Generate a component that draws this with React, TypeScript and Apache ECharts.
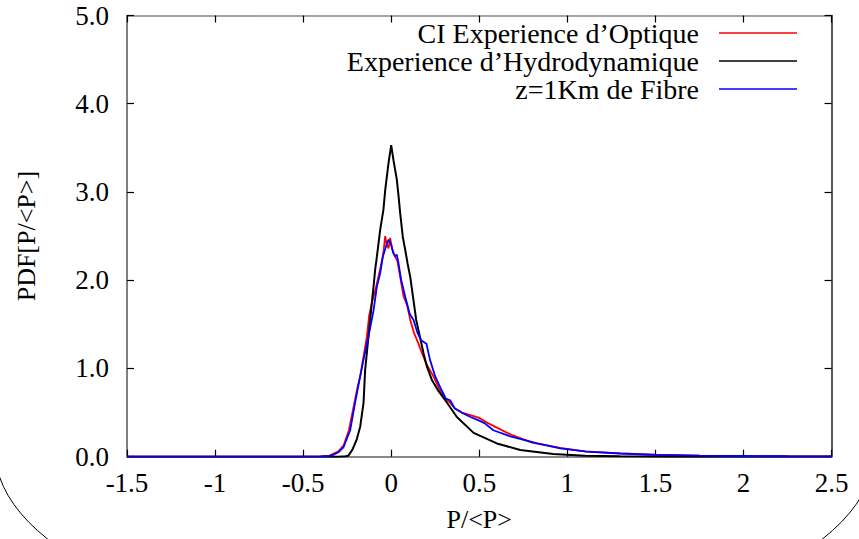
import React, { useEffect, useRef } from "react";
import * as echarts from "echarts";

// Axis ticks
const xTicks = [-1.5, -1, -0.5, 0, 0.5, 1, 1.5, 2, 2.5];
const yTicks = [0, 1, 2, 3, 4, 5];

const seriesNames = ["CI Experience d’Optique", "Experience d’Hydrodynamique", "z=1Km de Fibre"];
const seriesColors = ["#ff0000", "#000000", "#0000ff"];

// CI Experience d'Optique (red)
const redX = [-1.5, -0.5, -0.4, -0.35, -0.3, -0.27, -0.24, -0.21, -0.19, -0.176, -0.16, -0.138, -0.125, -0.11, -0.085, -0.06, -0.045, -0.034, -0.025, -0.015, -0.006, 0.005, 0.02, 0.035, 0.05, 0.07, 0.09, 0.108, 0.13, 0.153, 0.17, 0.2, 0.24, 0.27, 0.3, 0.33, 0.36, 0.4, 0.45, 0.5, 0.55, 0.6, 0.68, 0.8, 0.96, 1.1, 1.3, 1.5, 1.75, 2.0, 2.25, 2.5];
const redY = [0, 0, 0.003, 0.012, 0.06, 0.13, 0.3, 0.6, 0.8, 0.91, 1.1, 1.36, 1.6, 1.74, 1.93, 2.15, 2.3, 2.5, 2.4, 2.36, 2.48, 2.36, 2.28, 2.22, 2.05, 1.82, 1.72, 1.55, 1.4, 1.29, 1.2, 1.05, 0.91, 0.78, 0.67, 0.62, 0.55, 0.5, 0.47, 0.44, 0.38, 0.33, 0.25, 0.16, 0.1, 0.06, 0.038, 0.022, 0.013, 0.008, 0.005, 0.003];

// Experience d'Hydrodynamique (black)
const blackX = [-1.5, -0.3, -0.26, -0.244, -0.22, -0.195, -0.176, -0.157, -0.148, -0.129, -0.11, -0.1, -0.091, -0.081, -0.0625, -0.044, -0.034, -0.015, 0.0, 0.013, 0.032, 0.042, 0.051, 0.066, 0.08, 0.093, 0.108, 0.142, 0.184, 0.203, 0.231, 0.27, 0.307, 0.373, 0.468, 0.6, 0.733, 0.92, 1.1, 1.3, 1.6, 2.5];
const blackY = [0, 0, 0.005, 0.01, 0.08, 0.2, 0.34, 0.61, 0.98, 1.36, 1.74, 1.93, 2.12, 2.27, 2.57, 2.8, 3.02, 3.33, 3.53, 3.36, 3.14, 2.95, 2.76, 2.49, 2.34, 2.19, 2.04, 1.55, 1.17, 1.02, 0.87, 0.74, 0.64, 0.45, 0.27, 0.15, 0.076, 0.03, 0.012, 0.004, 0.0, 0.0];

// z=1Km de Fibre (blue)
const blueX = [-1.5, -0.5, -0.4, -0.35, -0.33, -0.3, -0.27, -0.233, -0.205, -0.18, -0.157, -0.129, -0.1, -0.081, -0.0625, -0.047, -0.03, -0.015, 0.0, 0.011, 0.022, 0.032, 0.04, 0.057, 0.08, 0.105, 0.127, 0.15, 0.17, 0.2, 0.22, 0.25, 0.28, 0.31, 0.335, 0.36, 0.41, 0.45, 0.487, 0.53, 0.58, 0.676, 0.83, 0.96, 1.11, 1.3, 1.5, 1.75, 2.0, 2.25, 2.5];
const blueY = [0, 0, 0.003, 0.01, 0.02, 0.05, 0.11, 0.3, 0.61, 0.87, 1.1, 1.36, 1.66, 1.93, 2.08, 2.27, 2.38, 2.46, 2.4, 2.31, 2.27, 2.29, 2.21, 2.0, 1.81, 1.62, 1.55, 1.4, 1.32, 1.28, 1.1, 0.91, 0.78, 0.66, 0.64, 0.55, 0.49, 0.45, 0.42, 0.38, 0.3, 0.23, 0.15, 0.095, 0.057, 0.036, 0.02, 0.012, 0.008, 0.005, 0.003];

const seriesXs = [redX, blackX, blueX];
const seriesYs = [redY, blackY, blueY];

const ArcShape = echarts.graphic.extendPath("M -5 450 A 440 188 0 0 0 875 450", {});
echarts.graphic.registerShape("bottomArc", ArcShape as any);

const FONT = "'Liberation Serif', 'Times New Roman', serif";

export default function App() {
  const ref = useRef<HTMLDivElement>(null);
  useEffect(() => {
    if (!ref.current) return;
    const chart = echarts.init(ref.current, null, { renderer: "svg" });
    const axisCommon = {
      type: "value" as const,
      splitLine: { show: false },
      axisTick: { show: true, inside: true, length: 7, lineStyle: { color: "#000", width: 1.2 } },
    };
    chart.setOption({
      animation: false,
      backgroundColor: "#fff",
      textStyle: { fontFamily: FONT },
      grid: { left: 127, right: 27.5, top: 15.5, bottom: 82.3, containLabel: false },
      legend: {
        orient: "vertical",
        right: 57,
        top: 14,
        align: "right",
        icon: "rect",
        itemWidth: 78,
        itemHeight: 1.6,
        itemGap: 0,
        selectedMode: false,
        data: seriesNames,
        textStyle: { fontFamily: FONT, fontSize: 28, color: "#000", padding: [0, 15, 0, 0], lineHeight: 26.6 },
      },
      xAxis: [
        {
          ...axisCommon,
          min: -1.5,
          max: 2.5,
          interval: 0.5,
          position: "bottom",
          axisLine: { show: true, onZero: false, lineStyle: { color: "#888", width: 2 } },
          axisLabel: { color: "#000", fontSize: 27, fontFamily: FONT, margin: 13 },
          name: "P/<P>",
          nameLocation: "middle",
          nameGap: 50,
          nameTextStyle: { color: "#000", fontSize: 26, fontFamily: FONT },
        },
        {
          ...axisCommon,
          min: -1.5,
          max: 2.5,
          interval: 0.5,
          position: "top",
          axisLine: { show: true, onZero: false, lineStyle: { color: "#888", width: 1.5 } },
          axisLabel: { show: false },
        },
      ],
      yAxis: [
        {
          ...axisCommon,
          min: 0,
          max: 5,
          interval: 1,
          position: "left",
          axisLine: { show: true, onZero: false, lineStyle: { color: "#555", width: 1.5 } },
          axisLabel: { color: "#000", fontSize: 27, fontFamily: FONT, margin: 18, formatter: (v: number) => v.toFixed(1) },
          name: "PDF[P/<P>]",
          nameLocation: "middle",
          nameGap: 88,
          nameTextStyle: { color: "#000", fontSize: 26, fontFamily: FONT },
        },
        {
          ...axisCommon,
          min: 0,
          max: 5,
          interval: 1,
          position: "right",
          axisLine: { show: true, onZero: false, lineStyle: { color: "#222", width: 1.5 } },
          axisLabel: { show: false },
        },
      ],
      series: seriesNames.map((name, i) => ({
        name,
        type: "line",
        xAxisIndex: 0,
        yAxisIndex: 0,
        symbol: "none",
        smooth: false,
        color: seriesColors[i],
        lineStyle: { color: seriesColors[i], width: i === 1 ? 2 : 1.8 },
        data: seriesXs[i].map((x, j) => [x, seriesYs[i][j]]),
      })),
      graphic: [
        {
          type: "bottomArc",
          x: 0,
          y: 0,
          silent: true,
          style: { stroke: "#000", fill: "none", lineWidth: 1 },
        },
      ],
    });
    return () => chart.dispose();
  }, []);
  return (
    <div
      ref={ref}
      style={{ position: "absolute", left: 0, top: 0, width: 859, height: 539 }}
    />
  );
}
